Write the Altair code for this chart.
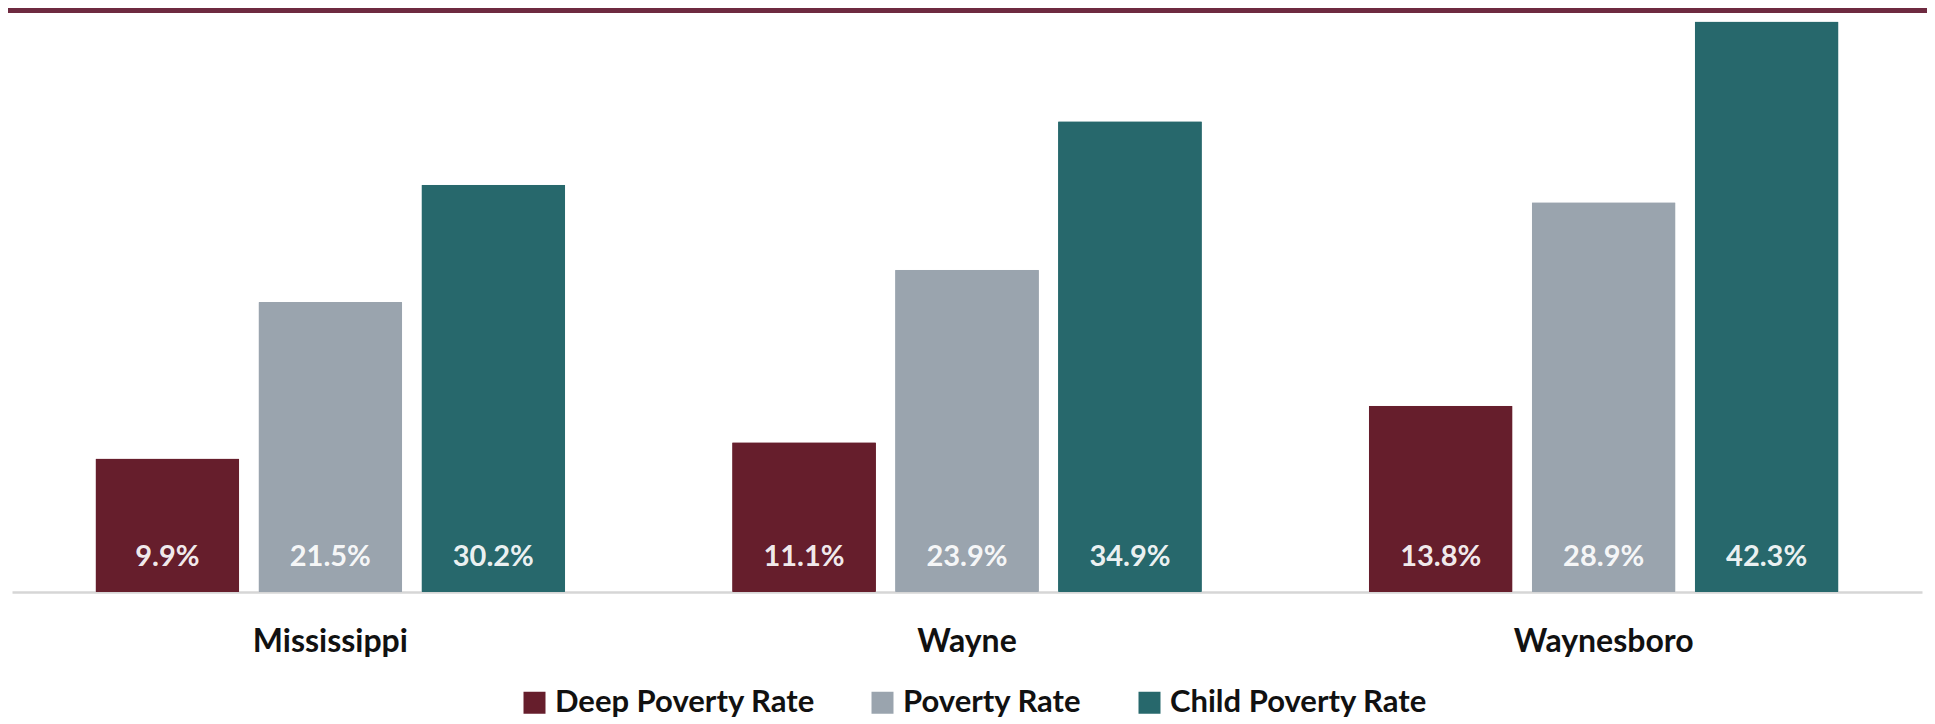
import altair as alt
import pandas as pd

places = ["Mississippi", "Wayne", "Waynesboro"]
series = ["Deep Poverty Rate", "Poverty Rate", "Child Poverty Rate"]
deep = [9.9, 11.1, 13.8]
poverty = [21.5, 23.9, 28.9]
child = [30.2, 34.9, 42.3]
colors = ["#661E2C", "#9AA4AE", "#27686C"]

rows = []
for i, p in enumerate(places):
    for s, vals in zip(series, [deep, poverty, child]):
        rows.append({"place": p, "series": s, "value": vals[i]})
df = pd.DataFrame(rows)

FONT = "Lato"

x_enc = alt.X("place:N", sort=places,
              scale=alt.Scale(paddingInner=0.262, paddingOuter=0.131),
              axis=alt.Axis(title=None, ticks=False, labelAngle=0, domain=True,
                            domainColor="#D6D6D6", domainWidth=2.5,
                            labelFont=FONT, labelFontSize=32, labelFontWeight="bold",
                            labelColor="#111111", labelPadding=49, labelBaseline="middle"))
xoff = alt.XOffset("series:N", sort=series,
                   scale=alt.Scale(paddingInner=0.117, paddingOuter=0))

bars = alt.Chart(df).mark_bar(cornerRadius=1).encode(
    x=x_enc,
    xOffset=xoff,
    y=alt.Y("value:Q", scale=alt.Scale(domain=[0, 43], nice=False),
            axis=None),
    color=alt.Color("series:N", sort=series,
                    scale=alt.Scale(domain=series, range=colors),
                    legend=alt.Legend(title=None, orient="none", direction="horizontal",
                                      legendX=507, legendY=675,
                                      symbolType="square", symbolSize=484,
                                      symbolStrokeWidth=0, labelFont=FONT,
                                      labelFontSize=31, labelFontWeight="bold",
                                      labelColor="#111111", labelOffset=5,
                                      columnPadding=52, labelLimit=400)),
)

labels = alt.Chart(df).transform_calculate(
    label="format(datum.value, '.1f') + '%'"
).mark_text(font=FONT, fontSize=29, fontWeight="bold", color="white",
            fillOpacity=0.93, baseline="middle", dy=-35).encode(
    x=alt.X("place:N", sort=places),
    xOffset=xoff,
    y=alt.datum(0),
    text="label:N",
)

band = alt.Chart(pd.DataFrame({"k": [0]})).mark_rule(color="#6E2A40", strokeWidth=5).encode(
    x=alt.value(-4), x2=alt.value(1915), y=alt.value(-1.5)
)

chart = alt.layer(band, bars, labels).properties(
    width=1910, height=580,
    autosize=alt.AutoSizeParams(type="none"),
    padding={"left": 4, "right": 5, "top": 4, "bottom": 132},
).configure_view(stroke=None)

chart.save("out.html", embed_options={"renderer": "svg", "actions": False})
